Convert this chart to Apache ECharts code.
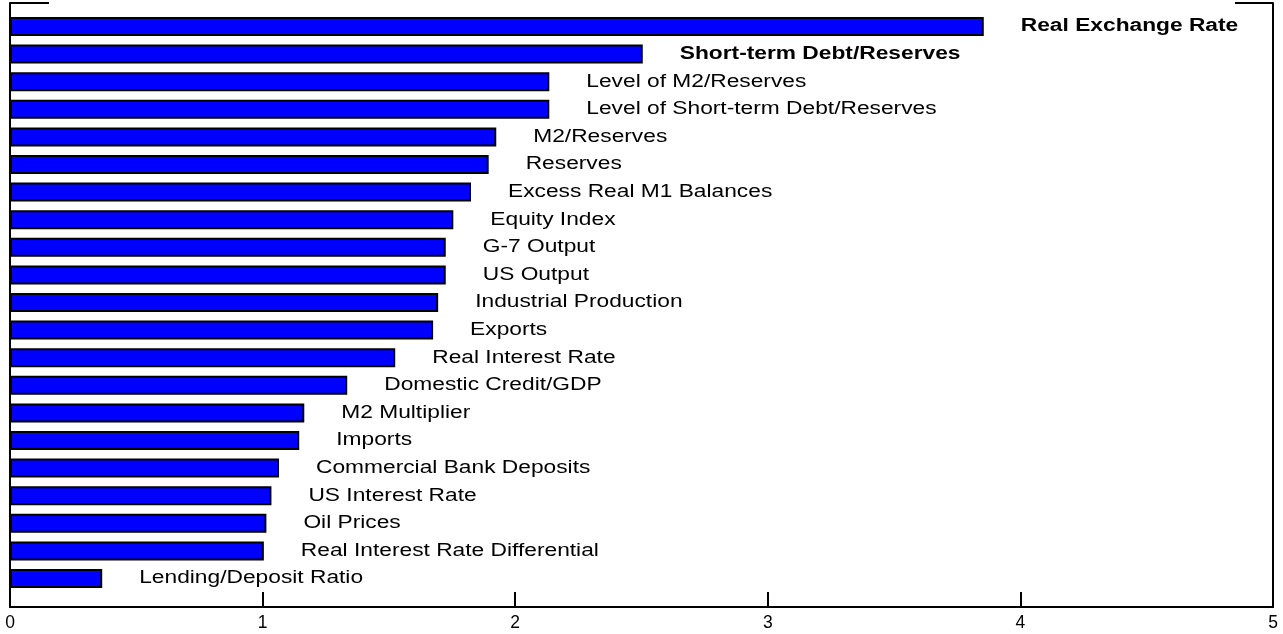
<!DOCTYPE html>
<html>
<head>
<meta charset="utf-8">
<script src="https://cdn.jsdelivr.net/npm/echarts@6/dist/echarts.min.js"></script>
<style>
  html, body { margin: 0; padding: 0; background: #fff; }
  #chart { width: 1283px; height: 634px; }
</style>
</head>
<body>
<div id="chart"></div>
<script>
// indicators, largest first
var categories = [
    "Real Exchange Rate", "Short-term Debt/Reserves", "Level of M2/Reserves",
    "Level of Short-term Debt/Reserves", "M2/Reserves", "Reserves",
    "Excess Real M1 Balances", "Equity Index", "G-7 Output", "US Output",
    "Industrial Production", "Exports", "Real Interest Rate", "Domestic Credit/GDP",
    "M2 Multiplier", "Imports", "Commercial Bank Deposits", "US Interest Rate",
    "Oil Prices", "Real Interest Rate Differential", "Lending/Deposit Ratio"
];
var values = [
    3.855, 2.505, 2.135, 2.135, 1.925, 1.895,
    1.825, 1.755, 1.725, 1.725,
    1.695, 1.675, 1.525, 1.335,
    1.165, 1.145, 1.065, 1.035,
    1.015, 1.005, 0.365
];
var xTicks = [0, 1, 2, 3, 4, 5];

// the original text is drawn wide, so labels get stretched sideways
function renderLabel(params, api) {
    var i = api.value(1);
    var pt = api.coord([api.value(0), i]);
    return {
        type: "text",
        x: pt[0] + 37,
        y: pt[1],
        scaleX: 1.3,
        style: {
            text: categories[i],
            fill: "#000",
            font: (i < 2 ? "bold " : "") + "17.5px 'Liberation Sans', Arial, sans-serif",
            align: "left",
            verticalAlign: "middle"
        }
    };
}

var chart = echarts.init(document.getElementById("chart"));
chart.setOption({
    animation: false,
    textStyle: { fontFamily: "Liberation Sans, Arial, sans-serif" },
    grid: [
        { left: 10, right: 10, top: 3, bottom: 27 },
        { left: 10, right: 10, top: 12.7, bottom: 41.7 }
    ],
    xAxis: [
        {
            gridIndex: 0, type: "value",
            min: xTicks[0], max: xTicks[xTicks.length - 1], interval: 1,
            axisLine: { show: true, lineStyle: { color: "#000", width: 2 } },
            axisTick: { show: true, inside: true, length: 15, lineStyle: { color: "#000", width: 2 } },
            axisLabel: { color: "#000", fontSize: 17.5, margin: 7 },
            splitLine: { show: false }
        },
        {
            gridIndex: 1, type: "value", min: 0, max: 5, show: false
        }
    ],
    yAxis: [
        {
            gridIndex: 0, type: "value", position: "left",
            axisLine: { show: true, lineStyle: { color: "#000", width: 2 } },
            axisTick: { show: false }, axisLabel: { show: false },
            splitLine: { show: false }
        },
        {
            gridIndex: 0, type: "value", position: "right",
            axisLine: { show: true, lineStyle: { color: "#000", width: 2 } },
            axisTick: { show: false }, axisLabel: { show: false },
            splitLine: { show: false }
        },
        {
            gridIndex: 1, type: "category", data: categories, inverse: true,
            show: false
        }
    ],
    graphic: [
        { type: "line", shape: { x1: 10, y1: 3, x2: 49, y2: 3 }, style: { stroke: "#000", lineWidth: 2 } },
        { type: "line", shape: { x1: 1235, y1: 3, x2: 1273, y2: 3 }, style: { stroke: "#000", lineWidth: 2 } }
    ],
    series: [
        {
            type: "bar",
            xAxisIndex: 1,
            yAxisIndex: 2,
            data: values,
            barWidth: 19,
            itemStyle: { color: "#0000ff", borderColor: "#000", borderWidth: 2 }
        },
        {
            type: "custom",
            xAxisIndex: 1,
            yAxisIndex: 2,
            data: values.map(function (v, i) { return [v, i]; }),
            encode: { x: 0, y: 1 },
            renderItem: renderLabel,
            silent: true
        }
    ]
});
</script>
</body>
</html>
